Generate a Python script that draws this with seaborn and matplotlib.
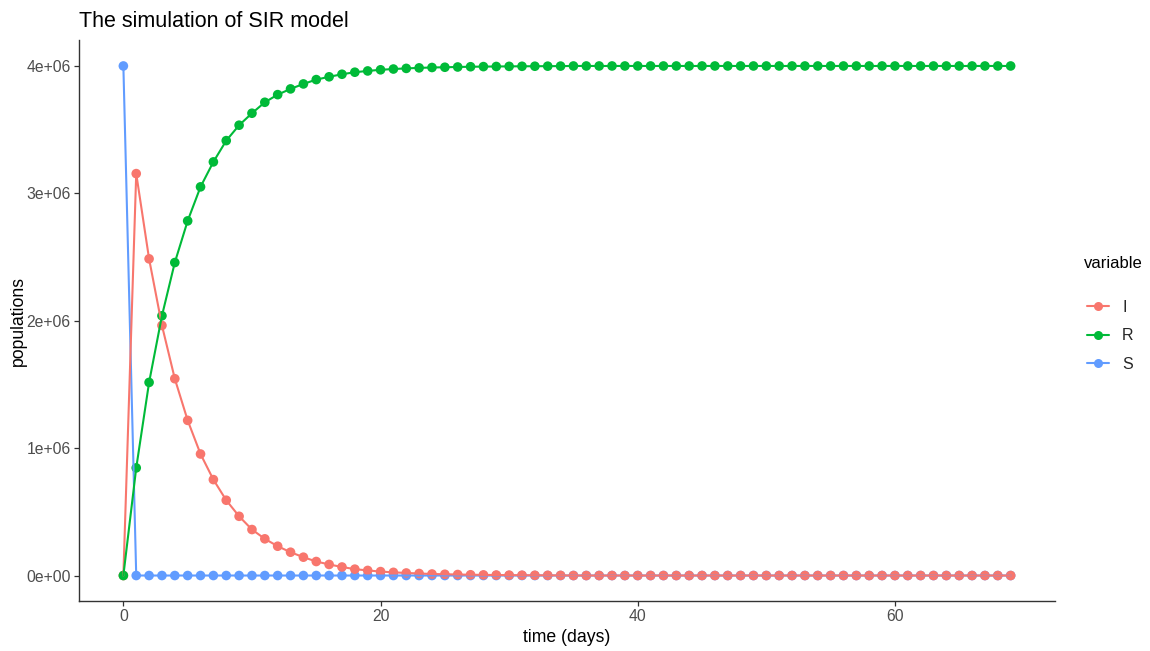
import numpy as np
import pandas as pd
import matplotlib
matplotlib.use("Agg")
import matplotlib.pyplot as plt
from matplotlib.lines import Line2D
import seaborn as sns
from matplotlib.ticker import FuncFormatter

# Daily SIR simulation output (days 0..69)
days = list(range(70))

S = [4.0e6] + [0.0] * 69

I = [0.0, 3.155e6, 2.486e6, 1.963e6, 1.545e6, 1.218e6, 0.954e6, 0.753e6,
     0.591e6, 0.465e6, 0.361e6, 0.288e6, 0.230e6, 0.183e6, 0.144e6, 0.110e6,
     0.087e6, 0.067e6, 0.050e6, 0.040e6, 0.031e6, 0.025e6, 0.020e6, 0.016e6,
     0.012e6, 0.010e6, 0.008e6, 0.006e6, 0.005e6, 0.004e6, 0.003e6, 0.0025e6,
     0.002e6, 0.0015e6, 0.001e6] + [0.0] * 35

R = [0.0, 0.845e6, 1.516e6, 2.039e6, 2.457e6, 2.784e6, 3.051e6, 3.247e6,
     3.414e6, 3.535e6, 3.629e6, 3.715e6, 3.775e6, 3.820e6, 3.859e6, 3.893e6,
     3.915e6, 3.935e6, 3.951e6, 3.961e6, 3.970e6, 3.976e6, 3.981e6, 3.985e6,
     3.988e6, 3.990e6, 3.992e6, 3.994e6, 3.995e6, 3.996e6, 3.997e6, 3.9975e6,
     3.998e6, 3.9985e6, 3.999e6] + [4.0e6] * 35

legend_order = ["I", "R", "S"]
draw_order = ["S", "I", "R"]
palette = {"I": "#F8766D", "R": "#00BA38", "S": "#619CFF"}

series = {"I": I, "R": R, "S": S}
df = pd.concat(
    [pd.DataFrame({"time": days, "value": series[k], "variable": k}) for k in draw_order],
    ignore_index=True,
)

sns.set_theme(style="ticks")
plt.rcParams["font.family"] = ["Liberation Sans", "DejaVu Sans"]

fig = plt.figure(figsize=(11.5, 6.51), dpi=100)
ax = fig.add_axes([0.0687, 0.0768, 0.8487, 0.861])

# lines first, then the daily points on top
sns.lineplot(data=df, x="time", y="value", hue="variable", hue_order=draw_order,
             palette=palette, linewidth=1.5, legend=False, ax=ax)
sns.scatterplot(data=df, x="time", y="value", hue="variable", hue_order=draw_order,
                palette=palette, s=48, linewidth=0, legend=False, ax=ax)

ax.set_xlim(-3.45, 72.45)
ax.set_ylim(-0.2e6, 4.2e6)
ax.set_xticks([0, 20, 40, 60])
ax.set_yticks([0, 1e6, 2e6, 3e6, 4e6])
ax.yaxis.set_major_formatter(FuncFormatter(
    lambda v, _: "0e+00" if v == 0 else f"{v:.0e}"))

for side in ["top", "right"]:
    ax.spines[side].set_visible(False)
for side in ["left", "bottom"]:
    ax.spines[side].set_color("#333333")
    ax.spines[side].set_linewidth(1.0)
ax.tick_params(axis="both", labelcolor="#4D4D4D", labelsize=11.3, length=3.5,
               width=0.9, pad=2.5, color="#333333")

ax.set_xlabel("time (days)", fontsize=12.7, color="black")
ax.set_ylabel("populations", fontsize=12.7, color="black")
ax.xaxis.set_label_coords(0.5, -0.05)
ax.yaxis.set_label_coords(-0.053, 0.5)
ax.set_title("The simulation of SIR model", fontsize=15.5, loc="left",
             color="black", pad=10, x=0.0)

# legend: title placed on its own, keys below it
fig.text(1084 / 1150, 1 - 263 / 651, "variable", fontsize=12, color="black",
         ha="left", va="center")
handles = [Line2D([0], [0], color=palette[k], lw=1.5, marker="o", markersize=6.5,
                  markeredgewidth=0) for k in legend_order]
ax.legend(handles, legend_order, loc="center left",
          bbox_to_anchor=(1087 / 1150, 1 - 336 / 651), bbox_transform=fig.transFigure,
          borderaxespad=0, borderpad=0, frameon=False, fontsize=11.5,
          handlelength=1.4, handletextpad=0.8, labelspacing=0.85)

fig.savefig("out.png", dpi=100)
